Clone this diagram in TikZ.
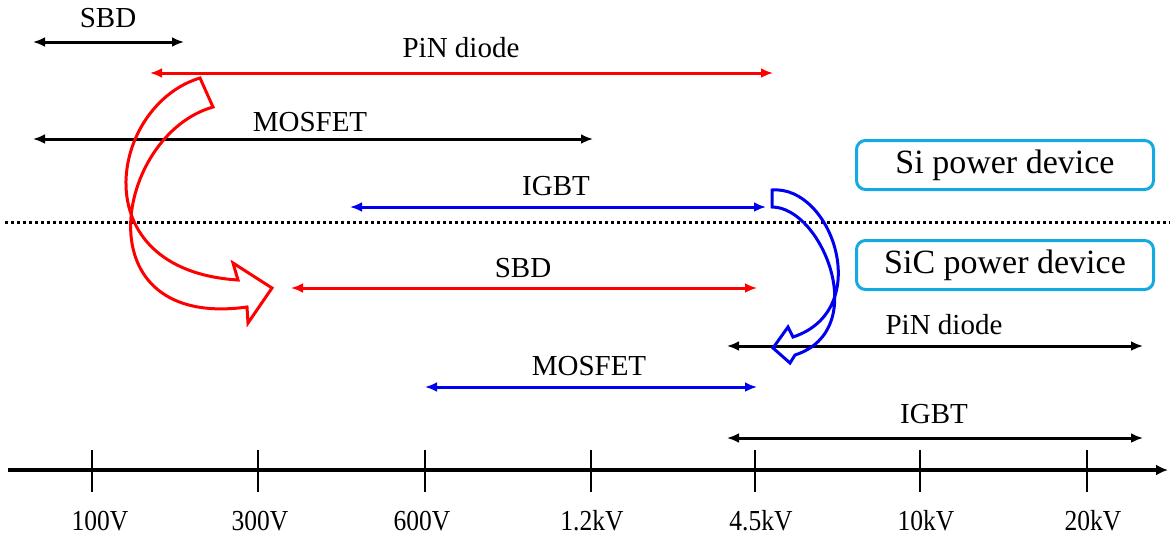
\documentclass[tikz,border=0pt]{standalone}
\usepackage{fontspec}
\setmainfont{Liberation Serif}
\usetikzlibrary{arrows.meta}
\definecolor{pred}{RGB}{255,0,0}
\definecolor{pblue}{RGB}{0,0,240}
\definecolor{boxcol}{RGB}{20,170,225}
\begin{document}
\begin{tikzpicture}[x=1pt,y=-1pt,
  rng/.style={line width=3pt,{Latex[length=12pt,width=10pt]}-{Latex[length=12pt,width=10pt]}},
  lbl/.style={font=\fontsize{29}{29}\selectfont,inner sep=0pt},
  tick/.style={line width=2.5pt},
  ticklbl/.style={font=\fontsize{29}{29}\selectfont,inner sep=0pt},
  legend/.style={draw=boxcol,line width=3pt,rounded corners=9pt,minimum width=297pt,minimum height=49pt,font=\fontsize{34}{34}\selectfont,inner sep=0pt},
  bigarrow/.style={line width=3pt,line join=miter}
]
\useasboundingbox (0,0) rectangle (1170,536);

% axis
\coordinate (ax0) at (8,470);
\coordinate (ax1) at (1168,470);
\draw[line width=4pt,-{Latex[length=12pt,width=11pt]}] (ax0) -- (ax1);
\foreach \x/\lx/\t/\n in {92/100/100V/a,258/260/300V/b,425/422/600V/c,591/592/1.2kV/d,755/761/4.5kV/e,920/926/10kV/f,1087/1093/20kV/g}{
  \coordinate (t\n1) at (\x,450);
  \coordinate (t\n2) at (\x,492);
  \draw[tick] (t\n1) -- (t\n2);
  \node[ticklbl,anchor=base] (l\n) at (\lx,530) {\scalebox{0.88}[1]{\t}};
}

% dotted separator
\coordinate (d0) at (5,222);
\coordinate (d1) at (1170,222);
\draw[line width=3pt,dash pattern=on 3pt off 3pt] (d0) -- (d1);

% Si devices
\coordinate (s1a) at (33,42); \coordinate (s1b) at (184,42);
\draw[rng,black] (s1a) -- (s1b);
\node[lbl] (s1l) at (108,18) {SBD};

\coordinate (s2a) at (150,73); \coordinate (s2b) at (773,73);
\draw[rng,pred] (s2a) -- (s2b);
\node[lbl] (s2l) at (461,48) {PiN diode};

\coordinate (s3a) at (33,139); \coordinate (s3b) at (593,139);
\draw[rng,black] (s3a) -- (s3b);
\node[lbl] (s3l) at (310,122) {MOSFET};

\coordinate (s4a) at (350,207); \coordinate (s4b) at (766,207);
\draw[rng,pblue] (s4a) -- (s4b);
\node[lbl] (s4l) at (556,186) {IGBT};

% SiC devices
\coordinate (c1a) at (291,288); \coordinate (c1b) at (757,288);
\draw[rng,pred] (c1a) -- (c1b);
\node[lbl] (c1l) at (523,268) {SBD};

\coordinate (c2a) at (727,346); \coordinate (c2b) at (1143,346);
\draw[rng,black] (c2a) -- (c2b);
\node[lbl] (c2l) at (944,325) {PiN diode};

\coordinate (c3a) at (425,387); \coordinate (c3b) at (757,387);
\draw[rng,pblue] (c3a) -- (c3b);
\node[lbl] (c3l) at (589,366) {MOSFET};

\coordinate (c4a) at (727,438); \coordinate (c4b) at (1143,438);
\draw[rng,black] (c4a) -- (c4b);
\node[lbl] (c4l) at (934,414) {IGBT};

% legend boxes
\node[legend] (si) at (1005,165) {Si power device};
\node[legend] (sic) at (1005,265) {SiC power device};

% red curved block arrow
\draw[bigarrow,pred] (200,78) .. controls (110,105) and (80,270) .. (238,280)
  -- (233,263) -- (272,288) -- (248,323) -- (247,307)
  .. controls (80,330) and (115,135) .. (213,107) -- cycle;

% blue curved block arrow
\draw[bigarrow,pblue] (772,190) .. controls (832,185) and (875,310) .. (793,337)
  -- (788,327) -- (773,348) -- (790,363) -- (795,355)
  .. controls (872,330) and (822,207) .. (772,207) -- cycle;
\end{tikzpicture}
\end{document}
